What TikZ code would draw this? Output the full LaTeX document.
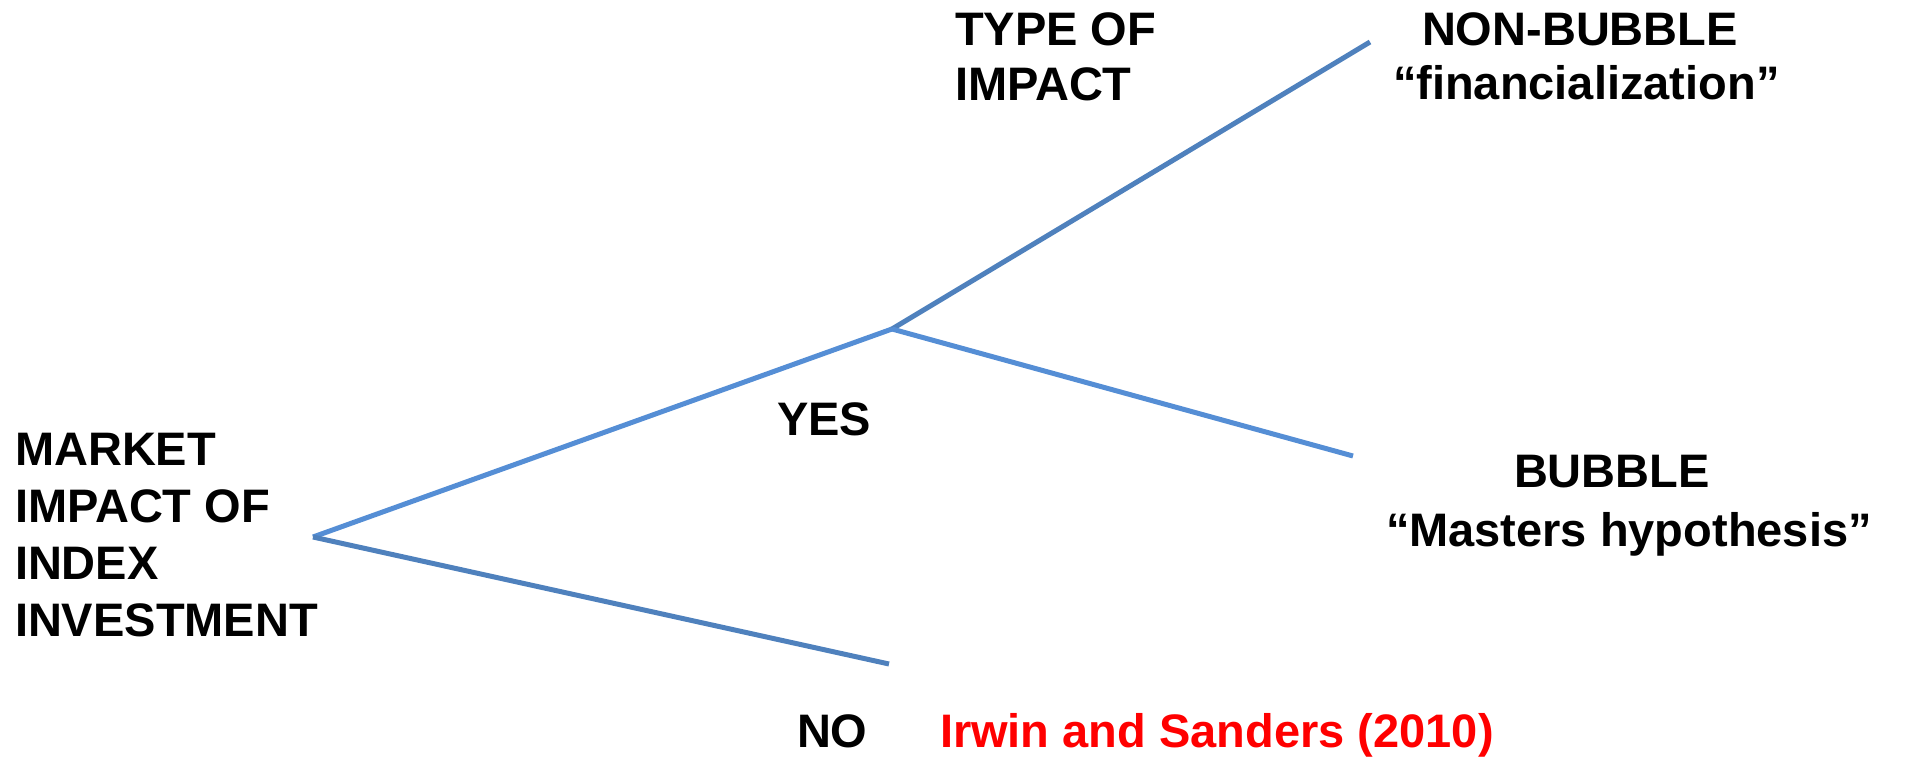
\documentclass[tikz,border=0pt]{standalone}
\usepackage{fontspec}
\setmainfont{Liberation Sans}
\definecolor{darkbranch}{HTML}{4F81BD}
\definecolor{lightbranch}{HTML}{558ED5}
\definecolor{cite}{HTML}{FF0000}
\begin{document}
\begin{tikzpicture}[x=1pt,y=-1pt,
  lbl/.style={inner sep=0pt, outer sep=0pt, font=\bfseries\fontsize{47}{57}\selectfont, text=black},
  branchdark/.style={draw=darkbranch, line width=5pt},
  branchlight/.style={draw=lightbranch, line width=5pt}]
\useasboundingbox (0,0) rectangle (1907,760);
% branch points
\coordinate (root) at (313,537);
\coordinate (mid) at (892,329);
\coordinate (topend) at (1370,42);
\coordinate (midend) at (1353,456);
\coordinate (lowend) at (889,664);
% connectors
\draw[branchlight] (root) -- (mid);
\draw[branchdark] (mid) -- (topend);
\draw[branchlight] (mid) -- (midend);
\draw[branchdark] (root) -- (lowend);
% labels
\node[lbl, anchor=north west, align=left] (market) at (15,433) {MARKET\\IMPACT OF\\INDEX\\INVESTMENT};
\node[lbl, anchor=north west, align=left, font=\bfseries\fontsize{47}{55}\selectfont] (type) at (955,13) {TYPE OF\\IMPACT};
\node[lbl, anchor=north west, align=left, font=\bfseries\fontsize{47}{54}\selectfont] (nonbubble) at (1393,13) {\hspace*{29pt}NON-BUBBLE\\“financialization”};
\node[lbl, anchor=north west, align=left, font=\bfseries\fontsize{47}{59}\selectfont] (bubble) at (1386,455) {\hspace*{128pt}BUBBLE\\“Masters hypothesis”};
\node[lbl, anchor=base west] (yes) at (777,435) {YES};
\node[lbl, anchor=base west] (no) at (797,747) {NO};
\node[lbl, anchor=base west, text=cite] (irwin) at (940,747) {Irwin and Sanders (2010)};
\end{tikzpicture}
\end{document}
